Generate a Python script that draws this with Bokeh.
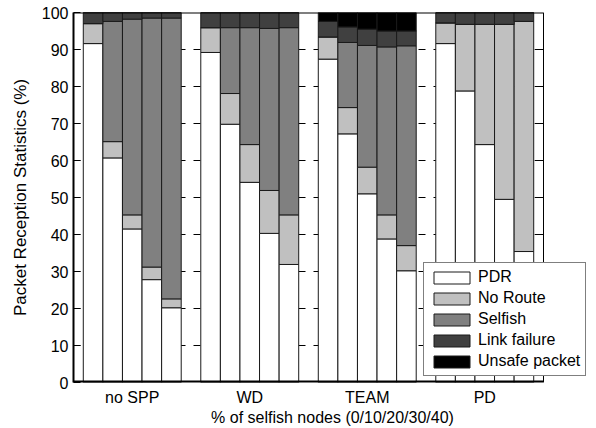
from bokeh.plotting import figure
from bokeh.models import ColumnDataSource, Range1d, FixedTicker
from bokeh.embed import file_html
from bokeh.resources import INLINE

groups = ["no SPP", "WD", "TEAM", "PD"]
selfish_levels = ["0", "10", "20", "30", "40"]
series = ["PDR", "No Route", "Selfish", "Link failure", "Unsafe packet"]
colors = ["#ffffff", "#c0c0c0", "#808080", "#404040", "#000000"]

# values per bar, ordered group by group (no SPP, WD, TEAM, PD), 0..40 % selfish
pdr = [91.6, 60.7, 41.5, 27.8, 20.2,
       89.2, 69.8, 54.1, 40.3, 31.9,
       87.4, 67.2, 51.0, 38.8, 30.2,
       91.6, 78.8, 64.3, 49.5, 35.4]
no_route = [5.4, 4.4, 3.8, 3.4, 2.4,
            6.7, 8.3, 10.2, 11.6, 13.4,
            6.0, 7.1, 7.2, 6.5, 6.8,
            5.6, 18.0, 32.5, 47.3, 62.2]
selfish = [0.0, 32.5, 52.9, 67.3, 75.9,
           0.0, 17.8, 31.6, 43.8, 50.6,
           0.0, 17.6, 32.9, 45.4, 54.0,
           0.0, 0.0, 0.0, 0.0, 0.0]
link_failure = [3.0, 2.4, 1.8, 1.5, 1.5,
                4.1, 4.1, 4.1, 4.3, 4.1,
                4.2, 4.2, 4.4, 4.3, 4.0,
                2.8, 3.2, 3.2, 3.2, 2.4]
unsafe = [0.0, 0.0, 0.0, 0.0, 0.0,
          0.0, 0.0, 0.0, 0.0, 0.0,
          2.4, 3.9, 4.5, 5.0, 5.0,
          0.0, 0.0, 0.0, 0.0, 0.0]
y_ticks = [0, 10, 20, 30, 40, 50, 60, 70, 80, 90, 100]

n = len(selfish_levels)
n_units = (n + 1) * len(groups)          # axis box spans this many bar widths
xs = [1 + (n + 1) * g + i for g in range(len(groups)) for i in range(n)]
group_centers = [1 + (n + 1) * g + (n - 1) / 2 for g in range(len(groups))]

FONT = "Liberation Sans"
W, H = 596, 428
LEFT, RIGHT_BOX, RIGHT_FRAME = 73, 543, 591
# frame extends past the axis box so the legend can overhang it
x_end = n_units * (RIGHT_FRAME - LEFT) / (RIGHT_BOX - LEFT)

source = ColumnDataSource(dict(x=xs, PDR=pdr, NR=no_route, SF=selfish,
                               LF=link_failure, US=unsafe))

p = figure(width=W, height=H, x_range=Range1d(0, x_end),
           y_range=Range1d(0, 100), output_backend="svg", toolbar_location=None,
           min_border_left=LEFT, min_border_right=W - RIGHT_FRAME, min_border_top=12,
           min_border_bottom=46, background_fill_color="white",
           border_fill_color="white")
p.outline_line_color = None
p.xgrid.visible = False
p.ygrid.visible = False

# dashed grid lines inside the axis box (visible only between groups)
grid_y = y_ticks[1:-1]
p.segment(x0=[0] * len(grid_y), y0=grid_y, x1=[n_units] * len(grid_y), y1=grid_y,
          line_color="black", line_width=1, line_dash="7 8")

p.vbar_stack(["PDR", "NR", "SF", "LF", "US"], x="x", width=1.0, source=source,
             fill_color=colors, line_color="#1a1a1a", line_width=1,
             legend_label=series)

# box: top, right, bottom lines and inward right ticks
p.segment(x0=[0], y0=[100], x1=[n_units], y1=[100], line_color="black", line_width=2)
p.segment(x0=[n_units], y0=[0], x1=[n_units], y1=[100], line_color="black", line_width=1)
p.segment(x0=[0], y0=[0], x1=[n_units], y1=[0], line_color="black", line_width=4)
p.segment(x0=[n_units - 0.45] * len(grid_y), y0=grid_y, x1=[n_units] * len(grid_y),
          y1=grid_y, line_color="black", line_width=1)

# y axis
p.yaxis.ticker = FixedTicker(ticks=y_ticks)
p.yaxis.major_tick_in = 7
p.yaxis.major_tick_out = 0
p.yaxis.minor_tick_line_color = None
p.yaxis.axis_line_width = 2
p.yaxis.axis_line_color = "black"
p.yaxis.major_tick_line_color = "black"
p.yaxis.major_label_text_font = FONT
p.yaxis.major_label_text_font_size = "16px"
p.yaxis.major_label_text_color = "black"
p.yaxis.major_label_standoff = 5
p.yaxis.axis_label = "Packet Reception Statistics (%)"
p.yaxis.axis_label_text_font = FONT
p.yaxis.axis_label_text_font_size = "17px"
p.yaxis.axis_label_text_font_style = "normal"
p.yaxis.axis_label_text_color = "black"
p.yaxis.axis_label_standoff = 9

# x axis (its line is drawn above as part of the box)
p.xaxis.ticker = FixedTicker(ticks=group_centers)
p.xaxis.major_label_overrides = {c: g for c, g in zip(group_centers, groups)}
p.xaxis.major_tick_line_color = None
p.xaxis.minor_tick_line_color = None
p.xaxis.axis_line_color = None
p.xaxis.major_label_text_font = FONT
p.xaxis.major_label_text_font_size = "16px"
p.xaxis.major_label_text_color = "black"
p.xaxis.major_label_standoff = 0
p.xaxis.axis_label = "% of selfish nodes (0/10/20/30/40)"
p.xaxis.axis_label_text_font = FONT
p.xaxis.axis_label_text_font_size = "16px"
p.xaxis.axis_label_text_font_style = "normal"
p.xaxis.axis_label_text_color = "black"
p.xaxis.axis_label_standoff = 0

lg = p.legend[0]
lg.location = (350, 6)
lg.border_line_color = "black"
lg.border_line_width = 1
lg.background_fill_color = "white"
lg.background_fill_alpha = 1
lg.glyph_width = 45
lg.glyph_height = 15
lg.label_height = 15
lg.label_standoff = 4
lg.spacing = 3
lg.padding = 5
lg.margin = 0
lg.label_text_font = FONT
lg.label_text_font_size = "16px"
lg.label_text_color = "black"

open("out.html", "w").write(file_html(p, INLINE))
